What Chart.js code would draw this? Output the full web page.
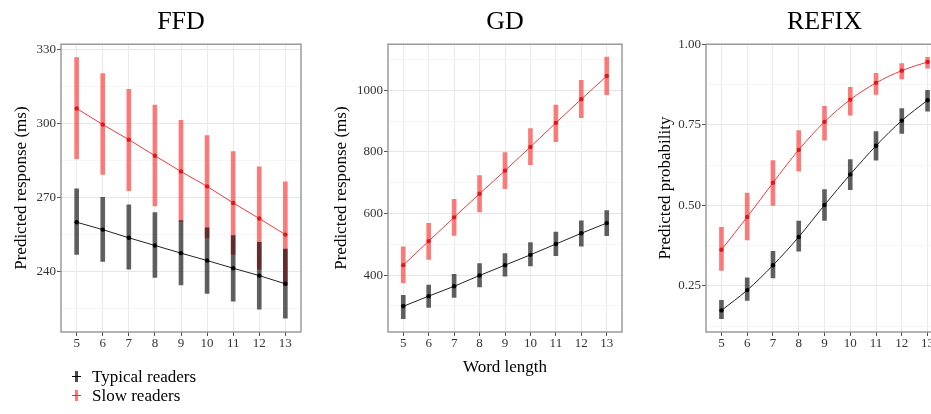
<!DOCTYPE html>
<html>
  <head>
    <title>Word length effects</title>
    <meta charset="UTF-8" />
    <script src="https://cdn.jsdelivr.net/npm/chart.js"></script>
    <style>
      html, body { margin: 0; padding: 0; background: #fff; overflow: hidden; }
      body { width: 931px; height: 414px; position: relative; font-family: "Liberation Serif", "Times New Roman", serif; }
      .panel { position: absolute; top: 0; height: 380px; }
      #ffdBox { left: 0; width: 311px; }
      #gdBox { left: 320px; width: 312px; }
      #refixBox { left: 644px; width: 309px; }
      .legend { position: absolute; left: 68px; top: 367px; font-size: 17px; color: #000; }
      .legend div { height: 19px; line-height: 19px; position: relative; padding-left: 24px; }
      .key { position: absolute; left: 4px; top: 4px; width: 9px; height: 11px; }
      .key .bar { position: absolute; left: 3px; top: 0; width: 3px; height: 11px; }
      .key .line { position: absolute; left: 0; top: 5px; width: 9px; height: 1px; }
    </style>
  </head>

  <body>
    <div class="panel" id="ffdBox"><canvas id="ffdChart"></canvas></div>
    <div class="panel" id="gdBox"><canvas id="gdChart"></canvas></div>
    <div class="panel" id="refixBox"><canvas id="refixChart"></canvas></div>

    <div class="legend">
      <div><span class="key"><span class="bar" style="background:#4a4a4a"></span><span class="line" style="background:#000"></span></span>Typical readers</div>
      <div><span class="key"><span class="bar" style="background:#f77"></span><span class="line" style="background:#f22"></span></span>Slow readers</div>
    </div>

    <script>
      // word length on x
      const wordLength = [5, 6, 7, 8, 9, 10, 11, 12, 13];
      const xRange = [4.4, 13.6];

      // first fixation duration (ms)
      const ffdTypical   = [260, 257, 253.7, 250.6, 247.5, 244.5, 241.4, 238.4, 235.1];
      const ffdTypicalLo = [247, 244.1, 241, 237.7, 234.6, 231.2, 228.1, 224.8, 221.2];
      const ffdTypicalHi = [273.5, 270.1, 267, 263.9, 260.7, 257.7, 254.6, 251.9, 249.1];
      const ffdSlow      = [306, 299.5, 293.4, 286.9, 280.5, 274.5, 267.8, 261.5, 255];
      const ffdSlowLo    = [285.7, 279.3, 272.8, 266.6, 260.4, 253.7, 247, 241, 234.4];
      const ffdSlowHi    = [326.6, 320.1, 313.7, 307.4, 301.2, 295, 288.6, 282.4, 276.3];
      const ffdTicks = [240, 270, 300, 330];
      const ffdMinor = [225, 255, 285, 315];

      // gaze duration (ms)
      const gdTypical   = [299, 332, 364, 399, 432.5, 466, 501, 536, 569];
      const gdTypicalLo = [259, 295, 327.5, 362, 397, 430, 463, 494, 528];
      const gdTypicalHi = [335, 367.5, 403, 438, 470.5, 506, 540, 576, 610];
      const gdSlow      = [432.5, 510.6, 587.6, 664.4, 739.3, 816.3, 894.3, 971.3, 1046.2];
      const gdSlowLo    = [375, 451, 529, 605, 681, 759, 833.5, 911.5, 986];
      const gdSlowHi    = [492, 568, 646, 723, 798, 876, 952, 1032, 1108];
      const gdTicks = [400, 600, 800, 1000];
      const gdMinor = [300, 500, 700, 900, 1100];

      // refixation probability
      const refixTypical   = [0.174, 0.237, 0.314, 0.402, 0.501, 0.596, 0.685, 0.763, 0.826];
      const refixTypicalLo = [0.148, 0.205, 0.275, 0.358, 0.453, 0.549, 0.64, 0.723, 0.792];
      const refixTypicalHi = [0.205, 0.275, 0.357, 0.451, 0.549, 0.642, 0.729, 0.80, 0.857];
      const refixSlow      = [0.362, 0.464, 0.570, 0.672, 0.759, 0.828, 0.880, 0.918, 0.945];
      const refixSlowLo    = [0.298, 0.393, 0.50, 0.606, 0.702, 0.78, 0.844, 0.892, 0.926];
      const refixSlowHi    = [0.432, 0.538, 0.639, 0.732, 0.807, 0.866, 0.91, 0.94, 0.959];
      const refixTicks = [0.25, 0.5, 0.75, 1.0];
      const refixMinor = [0.125, 0.375, 0.625, 0.875];

      const serif = "'Liberation Serif', 'Times New Roman', serif";
      const red = "#f23a3a";
      const redBar = "rgba(250, 60, 60, 0.68)";
      const greyBar = "rgba(0, 0, 0, 0.62)";

      // frame around the plotting area
      const panelBorder = {
        id: "panelBorder",
        afterDraw(chart) {
          const a = chart.chartArea;
          const ctx = chart.ctx;
          ctx.save();
          ctx.strokeStyle = "#8c8c8c";
          ctx.lineWidth = 1.3;
          ctx.strokeRect(a.left, a.top, a.right - a.left, a.bottom - a.top);
          ctx.restore();
        }
      };

      function points(ys) {
        return wordLength.map((x, i) => ({ x: x, y: ys[i] }));
      }
      function ranges(lo, hi) {
        return wordLength.map((x, i) => ({ x: x, y: [lo[i], hi[i]] }));
      }

      function makeChart(id, opts) {
        const major = opts.ticks;
        const allTicks = opts.ticks.concat(opts.minor).sort((a, b) => a - b);
        const curve = opts.smooth ? "monotone" : "default";

        return new Chart(document.getElementById(id), {
          type: "line",
          data: {
            datasets: [
              { type: "line", label: "Typical readers", data: points(opts.typical),
                borderColor: "#222", backgroundColor: "#000", borderWidth: 1,
                pointRadius: 2.2, pointBorderWidth: 0, cubicInterpolationMode: curve, order: 0 },
              { type: "line", label: "Slow readers", data: points(opts.slow),
                borderColor: red, backgroundColor: "#e3161a", borderWidth: 1,
                pointRadius: 2.2, pointBorderWidth: 0, cubicInterpolationMode: curve, order: 0 },
              { type: "bar", label: "Typical CI", data: ranges(opts.typicalLo, opts.typicalHi),
                backgroundColor: greyBar, barThickness: 4, grouped: false, order: 1 },
              { type: "bar", label: "Slow CI", data: ranges(opts.slowLo, opts.slowHi),
                backgroundColor: redBar, barThickness: 4, grouped: false, order: 1 }
            ]
          },
          options: {
            responsive: true,
            maintainAspectRatio: false,
            animation: false,
            layout: { padding: { left: 0, right: 10, top: 0, bottom: 0 } },
            plugins: {
              legend: { display: false },
              tooltip: { enabled: false },
              title: {
                display: true,
                text: opts.title,
                fullSize: false,
                color: "#000",
                font: { family: serif, size: 26, weight: "normal" },
                padding: { top: 7, bottom: 6 }
              }
            },
            scales: {
              x: {
                type: "linear",
                min: xRange[0],
                max: xRange[1],
                offset: false,
                afterBuildTicks: (scale) => { scale.ticks = wordLength.map(v => ({ value: v })); },
                afterFit: (scale) => { scale.height = 48; },
                border: { display: false },
                grid: { color: "#ebebeb", lineWidth: 1, tickLength: 4, tickColor: "#555", offset: false },
                ticks: { autoSkip: false, maxRotation: 0, padding: 0, color: "#333",
                         font: { family: serif, size: 13 } },
                title: {
                  display: !!opts.xTitle,
                  text: opts.xTitle || "",
                  color: "#000",
                  font: { family: serif, size: 17 },
                  padding: { top: 0, bottom: 2 }
                }
              },
              y: {
                min: opts.range[0],
                max: opts.range[1],
                afterBuildTicks: (scale) => { scale.ticks = allTicks.map(v => ({ value: v })); },
                afterFit: (scale) => { scale.width = opts.axisWidth; },
                border: { display: false },
                grid: {
                  color: (ctx) => major.includes(ctx.tick.value) ? "#e6e6e6" : "#f2f2f2",
                  lineWidth: (ctx) => major.includes(ctx.tick.value) ? 1 : 0.7,
                  tickLength: 4,
                  tickColor: (ctx) => major.includes(ctx.tick.value) ? "#555" : "rgba(0,0,0,0)"
                },
                ticks: {
                  autoSkip: false,
                  padding: 1,
                  color: "#333",
                  font: { family: serif, size: 13 },
                  callback: (v) => major.includes(v) ? opts.format(v) : ""
                },
                title: {
                  display: true,
                  text: opts.yTitle,
                  color: "#000",
                  font: { family: serif, size: 17 },
                  padding: { top: 11, bottom: 0 }
                }
              }
            }
          },
          plugins: [panelBorder]
        });
      }

      makeChart("ffdChart", {
        title: "FFD", yTitle: "Predicted response (ms)",
        typical: ffdTypical, typicalLo: ffdTypicalLo, typicalHi: ffdTypicalHi,
        slow: ffdSlow, slowLo: ffdSlowLo, slowHi: ffdSlowHi,
        ticks: ffdTicks, minor: ffdMinor, range: [215.6, 332],
        axisWidth: 61, format: (v) => String(v)
      });

      makeChart("gdChart", {
        title: "GD", yTitle: "Predicted response (ms)", xTitle: "Word length",
        typical: gdTypical, typicalLo: gdTypicalLo, typicalHi: gdTypicalHi,
        slow: gdSlow, slowLo: gdSlowLo, slowHi: gdSlowHi,
        ticks: gdTicks, minor: gdMinor, range: [215.6, 1149.6],
        axisWidth: 68, format: (v) => String(v)
      });

      makeChart("refixChart", {
        title: "REFIX", yTitle: "Predicted probability", smooth: true,
        typical: refixTypical, typicalLo: refixTypicalLo, typicalHi: refixTypicalHi,
        slow: refixSlow, slowLo: refixSlowLo, slowHi: refixSlowHi,
        ticks: refixTicks, minor: refixMinor, range: [0.107, 1.0],
        axisWidth: 62, format: (v) => v.toFixed(2)
      });
    </script>
  </body>
</html>
